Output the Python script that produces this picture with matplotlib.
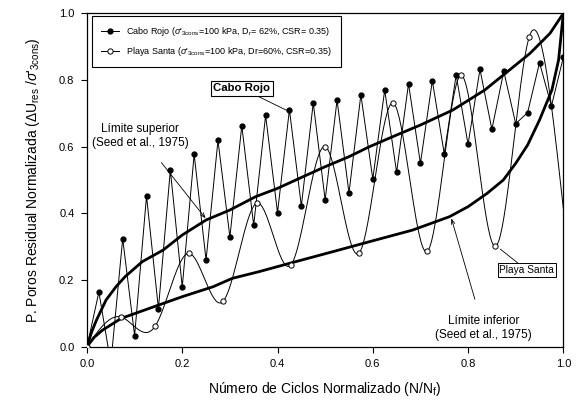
import numpy as np
import matplotlib
matplotlib.use('Agg')
import matplotlib.pyplot as plt

plt.rcParams['font.family'] = ['Liberation Sans', 'DejaVu Sans']
plt.rcParams['mathtext.fontset'] = 'custom'
plt.rcParams['mathtext.rm'] = 'Liberation Sans'
plt.rcParams['mathtext.it'] = 'Liberation Sans:italic'

# Cabo Rojo (N_f = 40 cycles)
cabo_x = np.arange(41) / 40.0
cabo_y = [0.0, 0.164, -0.05, 0.324, 0.033, 0.452, 0.114, 0.530, 0.179, 0.577,
          0.260, 0.619, 0.329, 0.663, 0.364, 0.694, 0.402, 0.711, 0.422, 0.731,
          0.440, 0.740, 0.461, 0.756, 0.503, 0.770, 0.523, 0.789, 0.550, 0.798,
          0.579, 0.815, 0.607, 0.832, 0.652, 0.826, 0.669, 0.702, 0.852, 0.722,
          0.868]

# Playa Santa (N_f = 14 cycles)
playa_x = np.arange(15) / 14.0
playa_y = [0.0, 0.089, 0.061, 0.280, 0.136, 0.431, 0.246, 0.600, 0.281, 0.731,
           0.286, 0.814, 0.301, 0.930, 0.415]

# Seed et al. (1975) bounds
sup_x = [0.0, 0.01, 0.02, 0.04, 0.061, 0.08, 0.116, 0.16, 0.2, 0.25, 0.3, 0.354,
         0.4, 0.446, 0.5, 0.55, 0.593, 0.65, 0.7, 0.768, 0.835, 0.874, 0.93,
         0.972, 1.0]
sup_y = [0.0, 0.045, 0.08, 0.14, 0.18, 0.21, 0.255, 0.29, 0.335, 0.38, 0.41,
         0.45, 0.475, 0.505, 0.54, 0.57, 0.60, 0.635, 0.665, 0.71, 0.77, 0.815,
         0.88, 0.94, 1.0]
inf_x = [0.0, 0.015, 0.033, 0.072, 0.131, 0.2, 0.265, 0.305, 0.361, 0.425,
         0.516, 0.593, 0.684, 0.761, 0.8, 0.84, 0.874, 0.9, 0.925, 0.95, 0.976,
         0.99, 1.0]
inf_y = [0.0, 0.028, 0.05, 0.085, 0.115, 0.15, 0.18, 0.205, 0.225, 0.25, 0.285,
         0.315, 0.35, 0.39, 0.42, 0.46, 0.50, 0.55, 0.605, 0.68, 0.77, 0.86, 1.0]


def natural_spline(x, y, n=40):
    # natural cubic spline drawn through the data points
    x = np.asarray(x, float)
    y = np.asarray(y, float)
    m = len(x)
    h = np.diff(x)
    A = np.zeros((m, m))
    b = np.zeros(m)
    A[0, 0] = A[-1, -1] = 1.0
    for i in range(1, m - 1):
        A[i, i - 1] = h[i - 1]
        A[i, i] = 2 * (h[i - 1] + h[i])
        A[i, i + 1] = h[i]
        b[i] = 6 * ((y[i + 1] - y[i]) / h[i] - (y[i] - y[i - 1]) / h[i - 1])
    M = np.linalg.solve(A, b)
    xs, ys = [], []
    for i in range(m - 1):
        t = np.linspace(x[i], x[i + 1], n)
        a = x[i + 1] - t
        c = t - x[i]
        s = (M[i] * a ** 3 + M[i + 1] * c ** 3) / (6 * h[i]) \
            + (y[i] / h[i] - M[i] * h[i] / 6) * a \
            + (y[i + 1] / h[i] - M[i + 1] * h[i] / 6) * c
        xs.append(t)
        ys.append(s)
    return np.concatenate(xs), np.concatenate(ys)


fig = plt.figure(figsize=(5.76, 4.05), dpi=100)
ax = fig.add_axes([0.151, 0.144, 0.827, 0.823])

ax.plot(sup_x, sup_y, '-', color='black', lw=2.0, zorder=3)
ax.plot(inf_x, inf_y, '-', color='black', lw=2.0, zorder=3)

ax.plot(cabo_x, cabo_y, '-o', color='black', lw=0.7, ms=3.5, mfc='black',
        mec='black', zorder=4,
        label=r"Cabo Rojo ($\sigma$'$_{\rm 3cons}$=100 kPa, D$_{\rm r}$= 62%, CSR= 0.35)")

sx, sy = natural_spline(playa_x, playa_y)
ax.plot(sx, sy, '-', color='black', lw=0.7, zorder=4)
ax.plot(playa_x[:-1], playa_y[:-1], 'o', color='black', ms=3.8, mfc='white',
        mec='black', mew=0.7, zorder=5)
# legend handle for Playa Santa
ax.plot([], [], '-o', color='black', lw=0.7, ms=3.8, mfc='white', mec='black',
        mew=0.7,
        label=r"Playa Santa ($\sigma$'$_{\rm 3cons}$=100 kPa, Dr=60%, CSR=0.35)")

ax.set_xlim(0, 1.0)
ax.set_ylim(0, 1.0)
ax.set_xticks(np.arange(0, 1.01, 0.2))
ax.set_yticks(np.arange(0, 1.01, 0.2))
ax.xaxis.set_major_formatter(matplotlib.ticker.FormatStrFormatter('%.1f'))
ax.yaxis.set_major_formatter(matplotlib.ticker.FormatStrFormatter('%.1f'))
ax.tick_params(direction='out', length=4, width=0.8, labelsize=8, top=False,
               right=False, pad=5)
for sp in ax.spines.values():
    sp.set_linewidth(0.9)

ax.set_xlabel(r"Número de Ciclos Normalizado (N/N$_{\rm f}$)", fontsize=10,
              labelpad=8)
ax.set_ylabel(r"P. Poros Residual Normalizada ($\Delta$U$_{\rm res}$ /$\sigma$'$_{\rm 3cons}$)",
              fontsize=10, labelpad=12)

leg = ax.legend(loc='upper left', bbox_to_anchor=(0.01, 0.992), borderaxespad=0,
                fontsize=6.5, handlelength=2.0, labelspacing=0.8,
                borderpad=1.0, fancybox=False, framealpha=1, edgecolor='black')
leg.get_frame().set_linewidth(0.8)
leg.set_zorder(10)

ax.annotate('Cabo Rojo', xy=(0.425, 0.705), xytext=(0.325, 0.775),
            fontsize=8.2, fontweight='bold', ha='center', va='center',
            bbox=dict(boxstyle='square,pad=0.2', fc='white', ec='black', lw=0.8),
            arrowprops=dict(arrowstyle='-', lw=0.6, color='black',
                            shrinkA=0, shrinkB=0), zorder=6)
ax.annotate('Límite superior\n(Seed et al., 1975)', xy=(0.249, 0.385),
            xytext=(0.112, 0.632), fontsize=8.5, ha='center', va='center',
            arrowprops=dict(arrowstyle='->,head_length=0.4,head_width=0.15',
                            lw=0.6, color='black', shrinkA=10, shrinkB=0),
            zorder=6)
ax.annotate('Límite inferior\n(Seed et al., 1975)', xy=(0.765, 0.385),
            xytext=(0.832, 0.055), fontsize=8.5, ha='center', va='center',
            arrowprops=dict(arrowstyle='->,head_length=0.4,head_width=0.15',
                            lw=0.6, color='black', shrinkA=10, shrinkB=0),
            zorder=6)
ax.annotate('Playa Santa', xy=(0.863, 0.298), xytext=(0.923, 0.23),
            fontsize=7.3, ha='center', va='center',
            bbox=dict(boxstyle='square,pad=0.15', fc='white', ec='black', lw=0.7),
            arrowprops=dict(arrowstyle='-', lw=0.6, color='black',
                            shrinkA=0, shrinkB=2), zorder=6)

fig.savefig('out.png', dpi=100)
